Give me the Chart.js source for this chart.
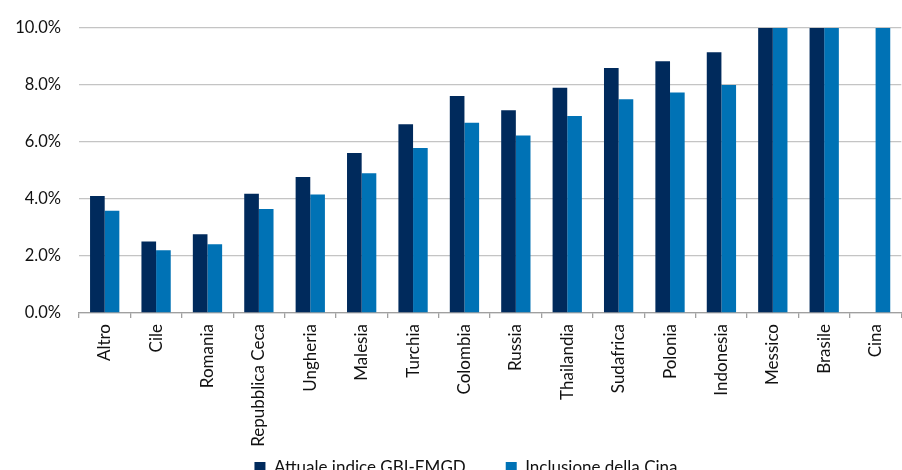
<!DOCTYPE html>
<html>
<head>
<meta charset="utf-8">
<script src="https://cdn.jsdelivr.net/npm/chart.js@4/dist/chart.umd.min.js"></script>
<style>
html,body{margin:0;padding:0;background:#fff;overflow:hidden;}
#wrap{position:relative;width:902px;height:486px;}
</style>
</head>
<body>
<div id="wrap"><canvas id="c"></canvas></div>
<script>
const categories = ["Altro","Cile","Romania","Repubblica Ceca","Ungheria","Malesia","Turchia","Colombia","Russia","Thailandia","Sudafrica","Polonia","Indonesia","Messico","Brasile","Cina"];
const seriesNames = ["Attuale indice GBI-EMGD","Inclusione della Cina"];
const attuale = [4.1, 2.51, 2.76, 4.18, 4.77, 5.61, 6.62, 7.61, 7.11, 7.9, 8.59, 8.83, 9.15, 10, 10, null];
const inclusione = [3.59, 2.2, 2.41, 3.65, 4.16, 4.9, 5.79, 6.67, 6.23, 6.91, 7.5, 7.73, 8.0, 10, 10, 10];
const yTicks = [0, 2, 4, 6, 8, 10];

const FONT = "Lato, 'Liberation Sans', sans-serif";
const tweaks = {
  id: 'tweaks',
  afterLayout(chart) { if (chart.legend) chart.legend.left += 30; },
  beforeDraw(chart) { if (chart.scales.x) chart.scales.x._computeLabelArea = () => undefined; }
};
new Chart(document.getElementById('c'), {
  type: 'bar',
  plugins: [tweaks],
  data: {
    labels: categories,
    datasets: [
      {label: seriesNames[0], data: attuale, backgroundColor: '#002A5C', categoryPercentage: 0.57, barPercentage: 1.0},
      {label: seriesNames[1], data: inclusione, backgroundColor: '#0072B5', categoryPercentage: 0.57, barPercentage: 1.0}
    ]
  },
  options: {
    responsive: true,
    maintainAspectRatio: false,
    animation: false,
    layout: {padding: {top: 19, left: 0, right: 0, bottom: 0}},
    plugins: {
      tooltip: {enabled: false},
      legend: {
        position: 'bottom',
        labels: {font: {family: FONT, size: 17}, color: '#111', boxWidth: 11, boxHeight: 11, padding: 40}
      }
    },
    scales: {
      y: {
        min: 0, max: 10,
        afterBuildTicks: s => { s.ticks = yTicks.map(v => ({value: v})); },
        afterFit: s => { s.width = 79; },
        border: {display: false},
        grid: {color: '#c4c4c4', lineWidth: 1.3, drawTicks: false},
        ticks: {padding: 18, color: '#111', font: {family: FONT, size: 16.5}, callback: v => v.toFixed(1) + '%'}
      },
      x: {
        afterFit: s => { s.height = 106; },
        border: {display: true, color: '#a0a0a0', width: 1.3},
        grid: {drawOnChartArea: false, drawTicks: true, tickLength: 5, offset: true, color: '#a0a0a0', lineWidth: 1.3},
        ticks: {minRotation: 90, maxRotation: 90, padding: 6, color: '#111', font: {family: FONT, size: 17}, autoSkip: false}
      }
    }
  }
});
</script>
</body>
</html>
